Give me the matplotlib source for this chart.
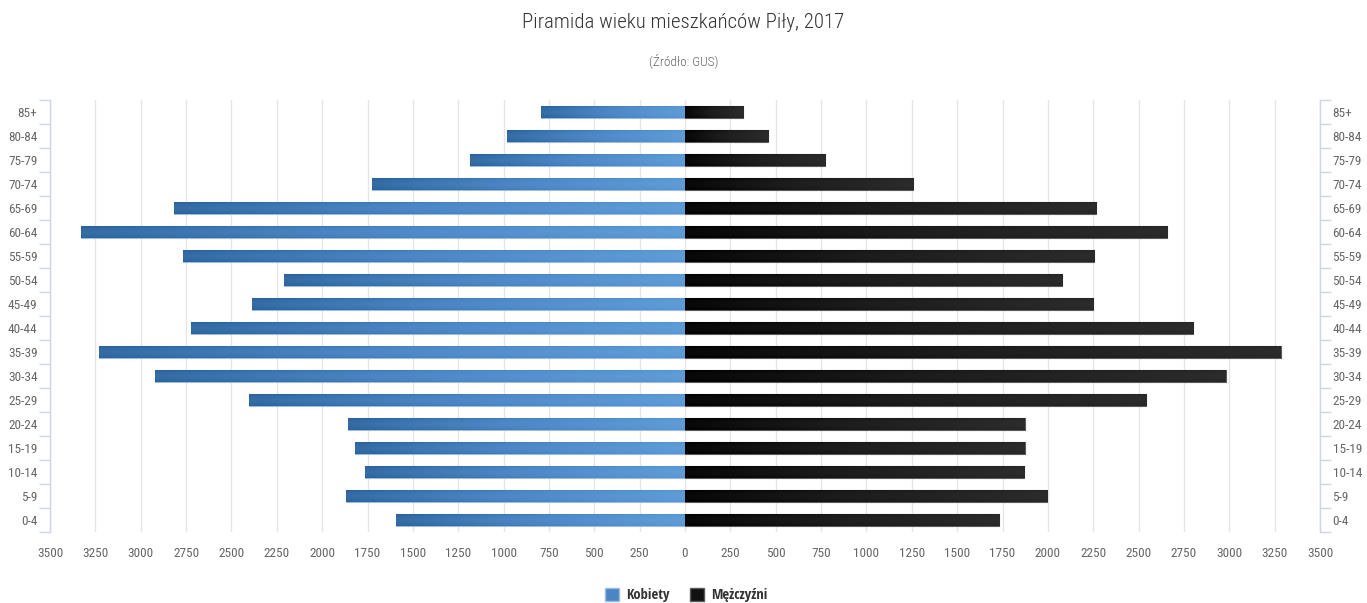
"""Population pyramid of Piła residents, 2017 (GUS)."""
import matplotlib
matplotlib.use("Agg")
import matplotlib.pyplot as plt
import numpy as np
from matplotlib.colors import LinearSegmentedColormap
from matplotlib.patches import Patch

FONT = ["Roboto Condensed", "DejaVu Sans"]
BOLD_FONT = ["Open Sans Condensed", "DejaVu Sans"]
plt.rcParams["font.family"] = FONT
plt.rcParams["font.weight"] = "light"

INK = "#333333"
INK_2 = "#666666"
GRID = "#e6e6e6"
AXIS = "#ccd6eb"

age_groups = ["0-4", "5-9", "10-14", "15-19", "20-24", "25-29", "30-34", "35-39",
              "40-44", "45-49", "50-54", "55-59", "60-64", "65-69", "70-74",
              "75-79", "80-84", "85+"]
women = [1595, 1869, 1762, 1817, 1859, 2402, 2923, 3232, 2721, 2385, 2209,
         2767, 3330, 2817, 1727, 1185, 981, 794]
men = [1731, 1996, 1869, 1874, 1874, 2541, 2981, 3284, 2802, 2249, 2078,
       2255, 2659, 2266, 1257, 772, 459, 320]
x_ticks = np.arange(-3500, 3501, 250)

blue_cmap = LinearSegmentedColormap.from_list("b", ["#2c6199", "#4a86c4", "#5f9dd9"])
black_cmap = LinearSegmentedColormap.from_list("k", ["#000000", "#1c1c1c", "#2c2c2c"])

fig = plt.figure(figsize=(13.67, 6.03), dpi=100)
ax = fig.add_axes([50 / 1367, 1 - 532 / 603, 1270 / 1367, 432 / 603])

y = np.arange(len(age_groups))
h = 0.5
bars_w = ax.barh(y, [-v for v in women], height=h, color="#4a86c4",
                 edgecolor="#9dbde0", linewidth=0.8, zorder=2)
bars_m = ax.barh(y, men, height=h, color="#111111",
                 edgecolor="#5a5a5a", linewidth=0.8, zorder=2)


def shade(bar, cmap):
    # ramp from the left end to the right end, a bit lighter along the middle
    x0, y0 = bar.get_x(), bar.get_y()
    w, hh = bar.get_width(), bar.get_height()
    t = np.linspace(0, 1, 200)
    v = np.linspace(-1, 1, 24)[:, None]
    img = t[None, :] * 0.85 + (1 - v ** 2) * 0.15
    im = ax.imshow(img, cmap=cmap, vmin=0, vmax=1, aspect="auto",
                   extent=[min(x0, x0 + w), max(x0, x0 + w), y0, y0 + hh],
                   origin="lower", zorder=2.5, interpolation="bilinear")
    im.set_clip_path(bar)


for b in bars_w:
    shade(b, blue_cmap)   # dark at outer end, light at centre
for b in bars_m:
    shade(b, black_cmap)  # black at centre, greyer at outer end

ax.set_xlim(-3500, 3500)
ax.set_ylim(-0.5, len(age_groups) - 0.5)

ax.set_xticks(x_ticks)
ax.set_xticklabels([str(abs(v)) for v in x_ticks], fontweight="normal")
ax.tick_params(axis="x", length=0, pad=11, labelsize=9.5, labelcolor=INK_2)
ax.grid(axis="x", color=GRID, linewidth=1)
ax.set_axisbelow(True)

ax.set_yticks(y)
ax.set_yticklabels(age_groups, fontweight="normal")
ax.set_yticks(np.arange(-0.5, len(age_groups)), minor=True)
ax.tick_params(axis="y", which="major", length=0, pad=9, labelsize=9.5,
               labelcolor=INK_2, left=True, right=True, labelleft=True, labelright=True)
ax.tick_params(axis="y", which="minor", length=8, width=1, color=AXIS,
               left=True, right=True)
for lbl in ax.yaxis.get_ticklabels(which="major") + ax.yaxis.get_majorticklabels():
    lbl.set_fontweight("normal")
for t in ax.yaxis.get_major_ticks():
    t.label2.set_fontweight("normal")

for s in ["top", "bottom"]:
    ax.spines[s].set_visible(False)
for s in ["left", "right"]:
    ax.spines[s].set_color(AXIS)
    ax.spines[s].set_linewidth(1)

fig.text(0.5, 1 - 22 / 603, "Piramida wieku mieszkańców Piły, 2017", ha="center",
         va="center", fontsize=15, color=INK)
fig.text(0.5, 1 - 61 / 603, "(Źródło: GUS)", ha="center", va="center",
         fontsize=9.5, color=INK_2)

handles = [Patch(facecolor="#4a86c4", edgecolor="#9dbde0", label="Kobiety"),
           Patch(facecolor="#111111", edgecolor="#5a5a5a", label="Mężczyźni")]
fig.legend(handles=handles, loc="center", bbox_to_anchor=(686 / 1367, 1 - 595 / 603),
           ncol=2, frameon=False, handlelength=1.0, handleheight=1.0,
           handletextpad=0.45, columnspacing=1.4,
           prop={"size": 10.5, "weight": "bold", "family": BOLD_FONT}, labelcolor=INK)

fig.savefig("out.png", dpi=100, facecolor="white")
